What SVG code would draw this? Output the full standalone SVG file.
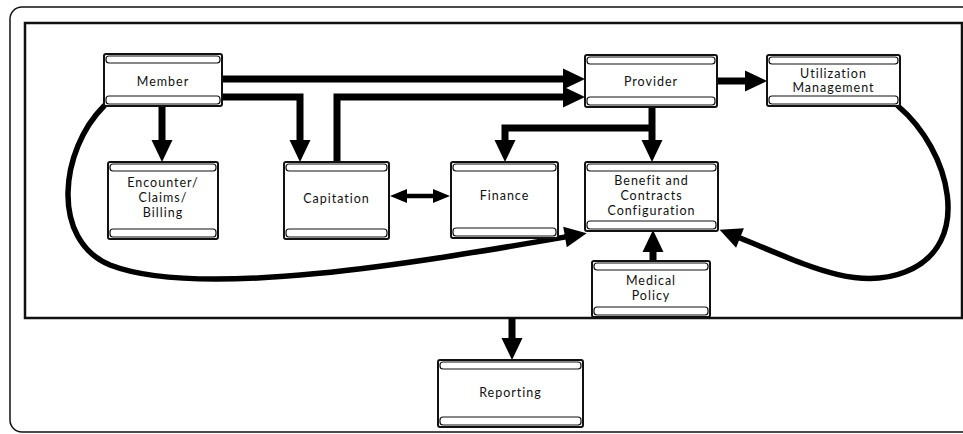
<svg xmlns="http://www.w3.org/2000/svg" width="963" height="434" viewBox="0 0 963 434">
  <style>
    .frame { fill: none; stroke: #111; }
    .box { fill: #fff; stroke: #111; stroke-width: 2; }
    .band { fill: #fff; stroke: #111; stroke-width: 1.2; }
    .lbl { font-family: Lato, "Open Sans", "Liberation Sans", sans-serif; font-size: 12.5px; letter-spacing: 1px; fill: #111; text-anchor: middle; }
    .flow { fill: none; stroke: #000; stroke-width: 7; stroke-linejoin: miter; }
    .curve { fill: none; stroke: #000; stroke-width: 5.5; stroke-linecap: round; }
    .dbl { fill: none; stroke: #000; stroke-width: 4.5; }
  </style>
  <defs>
    <marker id="head" markerUnits="userSpaceOnUse" viewBox="0 -11 23 22" refX="0" refY="0" markerWidth="23" markerHeight="22" orient="auto" overflow="visible">
      <path d="M0,-10.5 L22,0 L0,10.5 z" fill="#000"/>
    </marker>
    <marker id="small" markerUnits="userSpaceOnUse" viewBox="0 -8 18 16" refX="0" refY="0" markerWidth="18" markerHeight="16" orient="auto-start-reverse" overflow="visible">
      <path d="M0,-7 L17,0 L0,7 z" fill="#000"/>
    </marker>
  </defs>

  <rect width="963" height="434" fill="#fff"/>

  <!-- outer frame and core system boundary -->
  <rect class="frame" x="10" y="7" width="975" height="425" rx="12" stroke-width="1.5"/>
  <rect class="frame" x="25" y="23" width="937" height="295" stroke-width="2.5"/>

  <g id="connectors">
    <path class="flow" d="M222,79 H563" marker-end="url(#head)"/>
    <path class="flow" d="M222,97 H300 V140" marker-end="url(#head)"/>
    <path class="flow" d="M162,106 V140" marker-end="url(#head)"/>
    <path class="flow" d="M337,162 V97 H563" marker-end="url(#head)"/>
    <path class="flow" d="M717,81 H745" marker-end="url(#head)"/>
    <path class="flow" d="M652,107 V140" marker-end="url(#head)"/>
    <path class="flow" d="M655,128 H505 V140" marker-end="url(#head)"/>
    <path class="dbl" d="M407,196 H433" marker-start="url(#small)" marker-end="url(#small)"/>
    <path class="flow" d="M653,261 V252" marker-end="url(#head)"/>
    <path class="flow" d="M512,318 V338" marker-end="url(#head)"/>
    <path class="curve" d="M104,106 C60,150 50,240 110,265 C200,300 420,262 565,237" marker-end="url(#head)"/>
    <path class="curve" d="M898,106 C950,150 975,245 905,272 C855,292 800,262 740,238" marker-end="url(#head)"/>
  </g>

  <g id="member">
    <rect class="box" x="104" y="54" width="118" height="52" rx="2"/>
    <rect class="band" x="106" y="56" width="114" height="7" rx="3"/>
    <rect class="band" x="106" y="96" width="114" height="8" rx="3"/>
    <text class="lbl" x="163" y="86">Member</text>
  </g>

  <g id="encounter">
    <rect class="box" x="108" y="162" width="110" height="77" rx="2"/>
    <rect class="band" x="110" y="164" width="106" height="7" rx="3"/>
    <rect class="band" x="110" y="229" width="106" height="8" rx="3"/>
    <text class="lbl" x="163" y="187">Encounter/</text>
    <text class="lbl" x="163" y="202">Claims/</text>
    <text class="lbl" x="163" y="217">Billing</text>
  </g>

  <g id="capitation">
    <rect class="box" x="284" y="162" width="105" height="77" rx="2"/>
    <rect class="band" x="286" y="164" width="101" height="7" rx="3"/>
    <rect class="band" x="286" y="229" width="101" height="8" rx="3"/>
    <text class="lbl" x="336.5" y="203">Capitation</text>
  </g>

  <g id="finance">
    <rect class="box" x="451" y="162" width="107" height="76" rx="2"/>
    <rect class="band" x="453" y="164" width="103" height="7" rx="3"/>
    <rect class="band" x="453" y="228" width="103" height="8" rx="3"/>
    <text class="lbl" x="504.5" y="200">Finance</text>
  </g>

  <g id="provider">
    <rect class="box" x="585" y="55" width="132" height="52" rx="2"/>
    <rect class="band" x="587" y="57" width="128" height="7" rx="3"/>
    <rect class="band" x="587" y="97" width="128" height="8" rx="3"/>
    <text class="lbl" x="651" y="86">Provider</text>
  </g>

  <g id="utilization">
    <rect class="box" x="767" y="55" width="133" height="51" rx="2"/>
    <rect class="band" x="769" y="57" width="129" height="7" rx="3"/>
    <rect class="band" x="769" y="96" width="129" height="8" rx="3"/>
    <text class="lbl" x="833.5" y="78">Utilization</text>
    <text class="lbl" x="833.5" y="92">Management</text>
  </g>

  <g id="benefit">
    <rect class="box" x="585" y="162" width="133" height="69" rx="2"/>
    <rect class="band" x="587" y="164" width="129" height="7" rx="3"/>
    <rect class="band" x="587" y="221" width="129" height="8" rx="3"/>
    <text class="lbl" x="651.5" y="185">Benefit and</text>
    <text class="lbl" x="651.5" y="200">Contracts</text>
    <text class="lbl" x="651.5" y="215">Configuration</text>
  </g>

  <g id="medical">
    <rect class="box" x="592" y="261" width="118" height="56" rx="2"/>
    <rect class="band" x="594" y="263" width="114" height="7" rx="3"/>
    <rect class="band" x="594" y="307" width="114" height="8" rx="3"/>
    <text class="lbl" x="651" y="285">Medical</text>
    <text class="lbl" x="651" y="300">Policy</text>
  </g>

  <g id="reporting">
    <rect class="box" x="438" y="360" width="145" height="67" rx="2"/>
    <rect class="band" x="440" y="362" width="141" height="7" rx="3"/>
    <rect class="band" x="440" y="417" width="141" height="8" rx="3"/>
    <text class="lbl" x="510.5" y="397">Reporting</text>
  </g>
</svg>
